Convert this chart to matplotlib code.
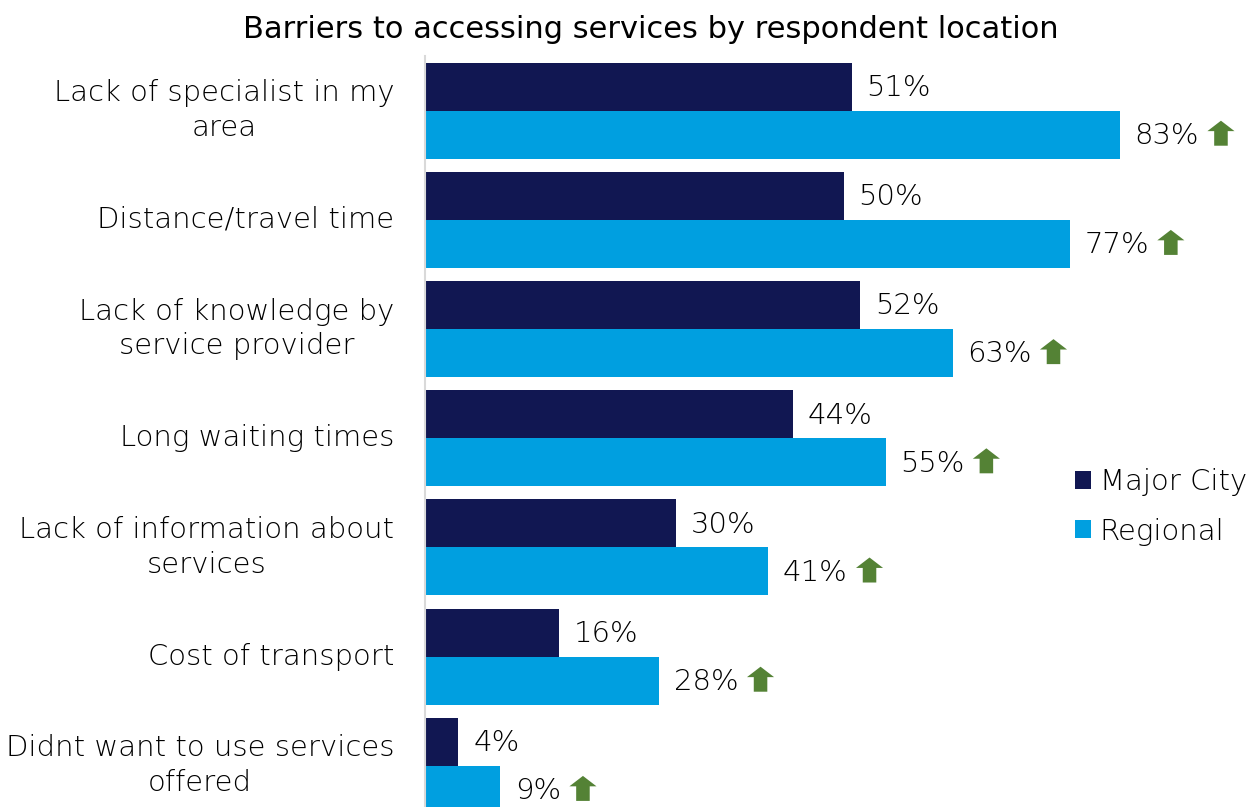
import matplotlib
matplotlib.use("Agg")
import matplotlib.pyplot as plt
from matplotlib.offsetbox import DrawingArea, AnnotationBbox
from matplotlib.patches import Polygon, Patch
import numpy as np

categories = [
    "Lack of specialist in my\narea",
    "Distance/travel time",
    "Lack of knowledge by\nservice provider",
    "Long waiting times",
    "Lack of information about\nservices",
    "Cost of transport",
    "Didnt want to use services\noffered",
]
major_city = [51, 50, 52, 44, 30, 16, 4]
regional = [83, 77, 63, 55, 41, 28, 9]
series_names = ["Major City", "Regional"]

NAVY = "#111752"
BLUE = "#009FE0"
GREEN = "#548235"
TXT = "#000000"
FS = 21

plt.rcParams["font.family"] = ["DejaVu Sans"]

W, H = 1249, 807
fig = plt.figure(figsize=(W / 100, H / 100), dpi=100)
ax_left, ax_top = 425, 56
slot = 109.2
ax_bottom = ax_top + slot * len(categories)
ax_right = W
ax = fig.add_axes([ax_left / W, 1 - ax_bottom / H, (ax_right - ax_left) / W, (ax_bottom - ax_top) / H])

y = np.arange(len(categories))
bh = 0.44
ax.barh(y - bh / 2, major_city, height=bh, color=NAVY)
ax.barh(y + bh / 2, regional, height=bh, color=BLUE)

px_per_unit = 695 / 83
ax.set_xlim(0, (ax_right - ax_left) / px_per_unit)
ax.set_ylim(len(categories) - 0.5, -0.5)

for s in ["top", "right", "bottom"]:
    ax.spines[s].set_visible(False)
ax.spines["left"].set_color("#d9d9d9")
ax.spines["left"].set_linewidth(1.5)
ax.set_xticks([])
ax.set_yticks(y)
ax.set_yticklabels(categories, fontsize=FS, color=TXT, linespacing=1.3, va="center",
                   fontweight="light", multialignment="center")
ax.tick_params(axis="y", length=0, pad=22)

lbl_kw = dict(fontsize=FS, color=TXT, va="center", ha="left", fontweight="light")
for i, v in enumerate(major_city):
    ax.annotate(f"{v}%", (v, i - bh / 2), xytext=(10.5, -1), textcoords="offset points", **lbl_kw)


def up_arrow():
    w, h = 19.5, 18
    da = DrawingArea(w, h, 0, 0)
    neck = 10.5
    pts = [(0, neck), (w / 2, h), (w, neck), (w * 0.75, neck), (w * 0.75, 0),
           (w * 0.25, 0), (w * 0.25, neck)]
    da.add_artist(Polygon(pts, closed=True, facecolor=GREEN, edgecolor="none"))
    return da


for i, v in enumerate(regional):
    t = ax.annotate(f"{v}%", (v, i + bh / 2), xytext=(10.5, -1), textcoords="offset points", **lbl_kw)
    ab = AnnotationBbox(up_arrow(), (1, 0.6), xycoords=t, box_alignment=(0, 0.5),
                        xybox=(6, 0), boxcoords="offset points", frameon=False, pad=0)
    ax.add_artist(ab)

handles = [Patch(facecolor=NAVY), Patch(facecolor=BLUE)]
fig.legend(handles, series_names, loc="center left", bbox_to_anchor=(1075 / W, 1 - 507 / H),
           frameon=False, handlelength=0.55, handleheight=0.55, handletextpad=0.3,
           labelspacing=0.72, borderpad=0, borderaxespad=0, labelcolor=TXT,
           prop=dict(size=FS, weight="light"))

fig.text(651 / W, 1 - 30 / H, "Barriers to accessing services by respondent location",
         ha="center", va="center", fontsize=22, color="#000000")

fig.savefig("out.png", dpi=100)
